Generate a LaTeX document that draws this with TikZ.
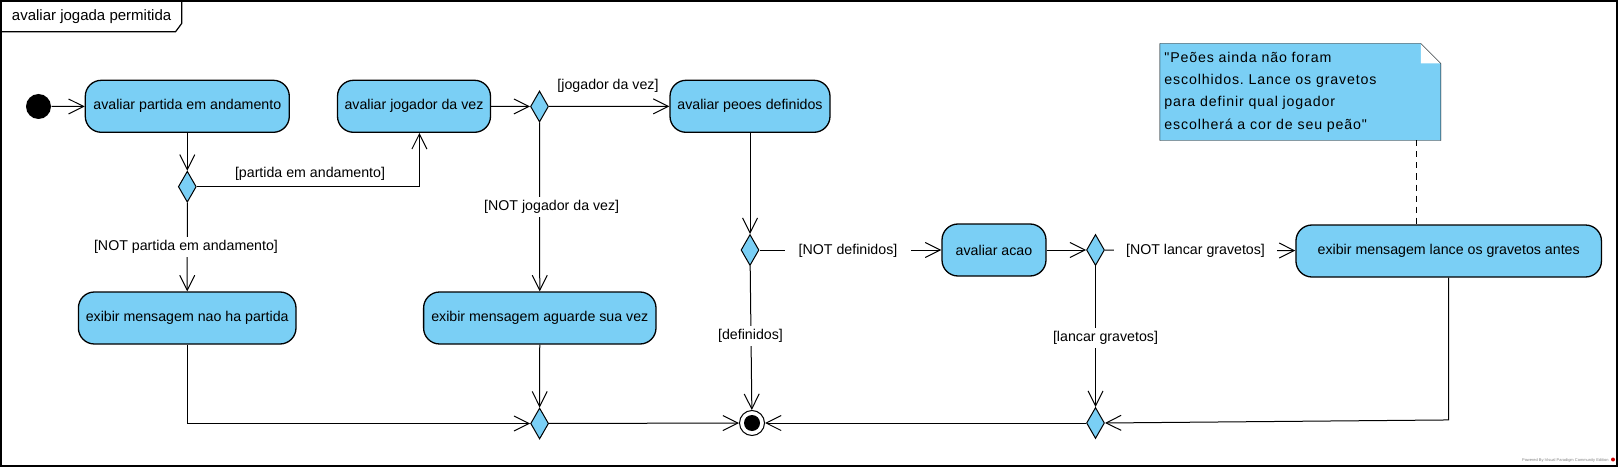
\documentclass[tikz,border=0pt]{standalone}
\usepackage{fontspec}
\setmainfont{Liberation Sans}
\newfontfamily\notefont[LetterSpace=6]{Liberation Sans}
\usetikzlibrary{shapes.geometric,arrows.meta,backgrounds}
\definecolor{vpblue}{HTML}{7ACFF5}
\frenchspacing

\tikzset{
  action/.style={rectangle, rounded corners=16pt, draw, line width=1.3pt,
                 fill=vpblue, minimum height=52pt, inner sep=0pt,
                 font=\fontsize{14.2}{17}\selectfont},
  decision/.style={diamond, draw, line width=1pt, fill=vpblue,
                   minimum width=18pt, minimum height=31pt, inner sep=0pt},
  finalnode/.style={circle, draw, line width=1pt, fill=white,
                    minimum size=25pt, inner sep=0pt,
                    path picture={\fill[black] (path picture bounding box.center) circle (8pt);}},
  guard/.style={fill=white, inner xsep=2pt, inner ysep=3pt,
                font=\fontsize{14.2}{17}\selectfont},
  flow/.style={line width=1pt, -{Straight Barb[length=15pt,width=15pt]}},
  notebox/.style={text width=272pt, align=left, inner xsep=4pt, inner ysep=0pt,
                  minimum height=96pt, font=\notefont\fontsize{14.2}{22.3}\selectfont}
}

\begin{document}
\begin{tikzpicture}[x=1pt, y=-1pt, line width=1pt]
  \useasboundingbox (0,0) rectangle (1620,468);

  % frame
  \draw[line width=1.2pt] (1,1) rectangle (1617,466);
  \draw[line width=1.2pt] (1,31.7) -- (175.6,31.7) -- (181.8,23.3) -- (181.8,1);
  \node[font=\fontsize{15}{18}\selectfont, inner sep=0pt] (title) at (91.6,17) {avaliar jogada permitida};

  % nodes
  \node[circle, fill=black, minimum size=25pt, inner sep=0pt] (start) at (38.5,106.5) {};
  \node[action, minimum width=204pt] (partida) at (187.3,106.3) {avaliar partida em andamento};
  \node[action, minimum width=153pt] (jogador) at (414,106.3) {avaliar jogador da vez};
  \node[decision] (djog) at (539.5,106.5) {};
  \node[action, minimum width=160pt] (peoes) at (750,106.3) {avaliar peoes definidos};
  \node[decision] (dpartida) at (187.3,186.7) {};
  \node[action, minimum width=217.6pt] (naoha) at (187.2,318) {exibir mensagem nao ha partida};
  \node[action, minimum width=232.4pt] (aguarde) at (539.8,318) {exibir mensagem aguarde sua vez};
  \node[decision] (ddef) at (750,250) {};
  \node[action, minimum width=104pt] (acao) at (994,250) {avaliar acao};
  \node[decision] (dlancar) at (1095.5,250) {};
  \node[action, minimum width=305.5pt] (lance) at (1448.7,251) {exibir mensagem lance os gravetos antes};
  \node[decision] (mergeA) at (539.6,423.5) {};
  \node[finalnode] (fim) at (752,423) {};
  \node[decision] (mergeB) at (1095.5,423) {};

  % note
  \node[notebox] (note) at (1300.35,92) {"Peões ainda não foram\\escolhidos. Lance os gravetos\\para definir qual jogador\\escolherá a cor de seu peão"};
  \begin{scope}[on background layer]
    \fill[vpblue] (note.north west) -- ([xshift=-20pt]note.north east) -- ([yshift=-20pt]note.north east)
      -- (note.south east) -- (note.south west) -- cycle;
    \fill[white] ([xshift=-20pt]note.north east) -- ([xshift=-20pt,yshift=-20pt]note.north east)
      -- ([yshift=-20pt]note.north east) -- cycle;
    \draw (note.north west) -- ([xshift=-20pt]note.north east) -- ([yshift=-20pt]note.north east)
      -- (note.south east) -- (note.south west) -- cycle;
  \end{scope}
  \coordinate (notefoot) at ([xshift=115.65pt]note.south);
  \draw[dash pattern=on 6pt off 5pt] (notefoot) -- (notefoot |- lance.north);

  % connectors
  \foreach \a/\b in {start/partida, partida/dpartida, dpartida/naoha, jogador/djog,
                     djog/peoes, djog/aguarde, peoes/ddef, ddef/acao, ddef/fim,
                     acao/dlancar, dlancar/lance, dlancar/mergeB, aguarde/mergeA,
                     mergeA/fim, mergeB/fim} {
    \draw[flow] (\a) -- (\b);
  }
  \draw[flow] (dpartida.east) -| ([xshift=5.4pt]jogador.south);
  \draw[flow] (naoha) |- (mergeA);
  \draw[flow] (lance.south) -- ++(0,142.3) -- (mergeB.east);

  % guards
  \node[guard, fill=none] (gPartida) at (310,174) {[partida em andamento]};
  \node[guard] (gNotPartida) at (186,247) {[NOT partida em andamento]};
  \node[guard, fill=none] (gJogador) at (608,86) {[jogador da vez]};
  \node[guard] (gNotJogador) at (551.7,207) {[NOT jogador da vez]};
  \node[guard, inner xsep=14pt] (gNotDef) at (848,251) {[NOT definidos]};
  \node[guard] (gDef) at (750.5,336) {[definidos]};
  \node[guard, inner xsep=12.5pt] (gNotLancar) at (1195.5,250.5) {[NOT lancar gravetos]};
  \node[guard] (gLancar) at (1105.5,338) {[lancar gravetos]};

  \node[font=\fontsize{4}{5}\selectfont, text=gray, anchor=east, inner sep=0pt] (credit) at (1609,460) {Powered By:Visual Paradigm Community Edition};
  \fill[red!80!black] (1613,459.5) circle (2pt);
\end{tikzpicture}
\end{document}
